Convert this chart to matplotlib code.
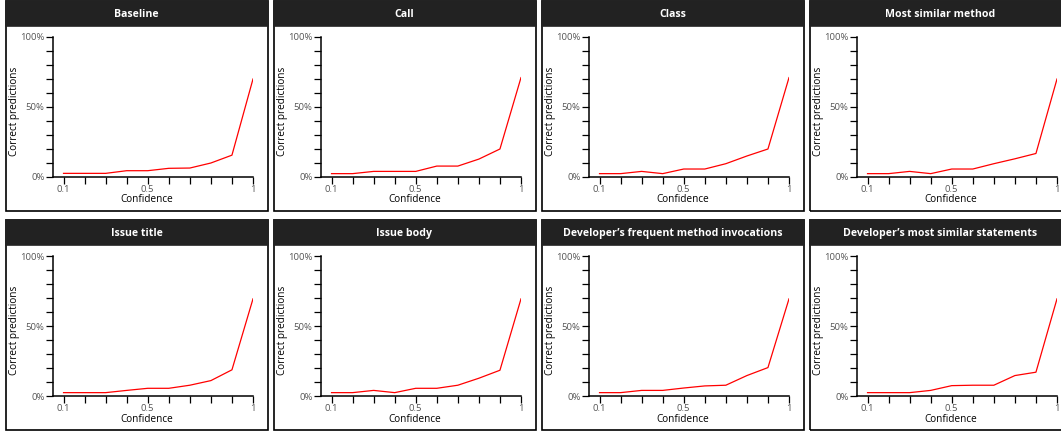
import matplotlib
matplotlib.use("Agg")
import matplotlib.pyplot as plt
from matplotlib.patches import Rectangle
from matplotlib.ticker import FixedLocator, FuncFormatter

plt.rcParams['font.family'] = ['Open Sans', 'DejaVu Sans']

# confidence buckets shared by every panel
confidence = [0.1, 0.2, 0.3, 0.4, 0.5, 0.6, 0.7, 0.8, 0.9, 1.0]

titles = [
    "Baseline", "Call", "Class", "Most similar method",
    "Issue title", "Issue body",
    "Developer\u2019s frequent method invocations",
    "Developer\u2019s most similar statements",
]

# share of correct predictions per bucket
baseline = [0.026, 0.026, 0.026, 0.045, 0.045, 0.062, 0.064, 0.10, 0.156, 0.70]
call = [0.024, 0.024, 0.04, 0.04, 0.04, 0.078, 0.078, 0.128, 0.20, 0.71]
klass = [0.024, 0.024, 0.04, 0.024, 0.057, 0.057, 0.095, 0.15, 0.20, 0.71]
most_similar_method = [0.024, 0.024, 0.04, 0.024, 0.057, 0.057, 0.095, 0.13, 0.168, 0.70]
issue_title = [0.024, 0.024, 0.024, 0.04, 0.055, 0.055, 0.077, 0.11, 0.187, 0.694]
issue_body = [0.024, 0.024, 0.04, 0.024, 0.055, 0.055, 0.077, 0.127, 0.184, 0.694]
dev_invocations = [0.024, 0.024, 0.04, 0.04, 0.057, 0.072, 0.077, 0.146, 0.203, 0.694]
dev_statements = [0.024, 0.024, 0.024, 0.04, 0.074, 0.077, 0.077, 0.146, 0.17, 0.694]

series = [baseline, call, klass, most_similar_method,
          issue_title, issue_body, dev_invocations, dev_statements]

W, H = 1061, 434
fig = plt.figure(figsize=(W / 100, H / 100), dpi=100)


def fx(px):
    return px / W


def fy(py):
    return 1 - py / H


panel_w, panel_h = 262, 210
lefts = [5.5, 273.5, 541.5, 809.5]
tops = [1.0, 220.0]
header_h = 25

for i, (title, vals) in enumerate(zip(titles, series)):
    left = lefts[i % 4]
    top = tops[i // 4]

    # panel frame and dark header strip
    fig.patches.append(Rectangle((fx(left), fy(top + panel_h)), fx(panel_w), panel_h / H,
                                 transform=fig.transFigure, fill=False,
                                 edgecolor='black', linewidth=1.2, zorder=1))
    fig.patches.append(Rectangle((fx(left), fy(top + header_h)), fx(panel_w), header_h / H,
                                 transform=fig.transFigure, facecolor='#222222',
                                 edgecolor='#222222', linewidth=1.2, zorder=2))
    fig.text(fx(left + panel_w / 2), fy(top + header_h / 2 + 1), title,
             color='white', fontsize=7.6, fontweight='bold',
             ha='center', va='center')

    # plotting area
    ax_left = left + 47.5
    ax_top = top + 36
    ax = fig.add_axes([fx(ax_left), fy(ax_top + 140), fx(200), 140 / H])
    ax.plot(confidence, vals, color='red', linewidth=0.9)
    ax.set_xlim(0.05, 1.0)
    ax.set_ylim(0, 1)

    for s in ['top', 'right']:
        ax.spines[s].set_visible(False)
    for s in ['left', 'bottom']:
        ax.spines[s].set_linewidth(1.1)

    ax.xaxis.set_major_locator(FixedLocator(confidence))
    ax.xaxis.set_major_formatter(FuncFormatter(
        lambda v, p: {0.1: '0.1', 0.5: '0.5', 1.0: '1'}.get(round(v, 1), '')))
    ax.yaxis.set_major_locator(FixedLocator([k / 10 for k in range(11)]))
    ax.yaxis.set_major_formatter(FuncFormatter(
        lambda v, p: {0.0: '0%', 0.5: '50%', 1.0: '100%'}.get(round(v, 1), '')))
    ax.tick_params(axis='both', length=5, width=0.9, labelsize=6.8,
                   labelcolor='#555555', pad=1)

    ax.set_xlabel("Confidence", fontsize=7.2)
    ax.set_ylabel("Correct predictions", fontsize=7.2)
    ax.xaxis.set_label_coords(0.47, -0.125)
    ax.yaxis.set_label_coords(-0.165, 0.47)

fig.savefig("out.png", dpi=100)
